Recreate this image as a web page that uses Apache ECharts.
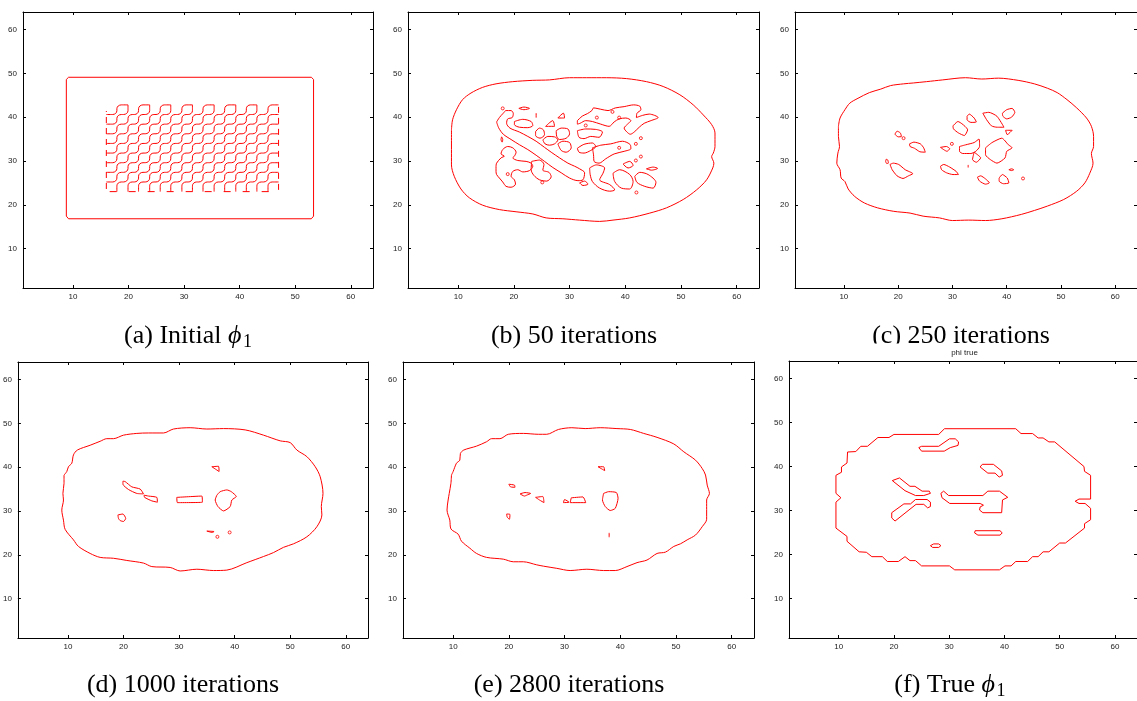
<!DOCTYPE html>
<html>
<head>
<meta charset="utf-8">
<script src="https://cdn.jsdelivr.net/npm/echarts@6/dist/echarts.min.js"></script>
<style>
  html, body { margin: 0; padding: 0; background: #fff; }
  #chart { width: 1137px; height: 701px; }
</style>
</head>
<body>
<div id="chart"></div>
<script>
// ticks shared by every panel
const tickValues = [10, 20, 30, 40, 50, 60];
const axisRange = [1, 64];

// (a) initial phi: rounded outer box
const outerA = [[9.2,16.8],[52.9,16.8],[53.2,17.0],[53.3,17.4],[53.3,48.6],[53.2,49.0],[52.9,49.1],[9.2,49.1],[8.9,49.0],[8.8,48.6],[8.8,17.4],[8.9,17.0],[9.2,16.8]];
// (a) checkerboard grid lines
const checkerX = [16, 17.9, 19.9, 21.8, 23.8, 25.7, 27.6, 29.6, 31.5, 33.4, 35.4, 37.3, 39.3, 41.2, 43.1, 45.1, 47];
const checkerY = [23, 25.2, 27.4, 29.6, 31.8, 34, 36.2, 38.4, 40.6, 42.8];
// (a) dashed borders of the checkerboard
const dashLeftA = [[16, 23.6], [16, 41.4]];
const dashBottomA = [[16.6, 23], [46.6, 23]];
const dashRightA = [[47, 23.4], [47, 43.2]];

// (b) 50 iterations
const outerB = [[8.8,37.1],[9.0,39.4],[9.7,41.7],[10.8,44.0],[12.3,45.5],[14.4,46.8],[16.8,47.6],[19.8,48.1],[23.4,48.4],[26.4,48.5],[30.0,49.0],[33.0,49.0],[36.6,49.0],[40.2,48.8],[43.8,48.1],[46.8,47.0],[49.8,45.1],[52.2,42.8],[54.0,40.5],[55.5,38.3],[56.1,36.4],[56.1,33.3],[55.8,31.8],[55.5,31.0],[55.9,29.5],[55.7,28.4],[54.6,25.7],[52.8,23.4],[50.4,21.2],[47.4,19.3],[44.4,18.1],[40.8,17.0],[37.8,16.5],[35.4,16.2],[31.8,16.5],[28.8,16.8],[25.8,17.0],[23.4,17.9],[20.4,18.4],[17.4,18.9],[14.4,19.9],[12.0,21.6],[10.5,23.6],[9.3,26.5],[8.8,29.1],[8.8,32.6],[8.8,37.1]];
const islandsB = [
  // long diagonal band with its hooked upper end
  [[16.9,38.9],[17.4,39.9],[18.1,40.9],[18.6,41.5],[19.5,41.5],[19.9,40.8],[19.7,39.9],[18.9,39.6],[18.7,38.6],[19.3,37.5],[21.0,36.6],[22.5,35.6],[24.0,34.5],[25.5,33.1],[26.7,32.0],[28.2,30.7],[29.7,29.5],[30.9,28.8],[31.8,28.2],[32.7,27.3],[32.4,25.7],[31.5,25.5],[30.0,26.1],[28.5,27.3],[27.0,28.5],[25.5,29.9],[24.0,31.3],[22.5,32.6],[21.0,33.7],[19.5,34.9],[18.1,36.1],[17.3,37.5],[16.9,38.9]],
  [[20.1,39.0],[21.6,39.5],[23.1,39.0],[23.4,38.1],[22.5,37.6],[21.0,37.7],[20.1,38.3],[20.1,39.0]],
  [[20.9,42.0],[21.8,42.3],[22.8,42.0],[21.8,41.7],[20.9,42.0]],
  [[24.0,40.9],[24.0,39.9]],
  [[17.8,35.5],[18.0,34.9],[17.9,34.3],[17.7,34.9],[17.8,35.5]],
  [[16.8,28.8],[16.9,29.5],[17.7,30.7],[18.3,31.1],[17.7,31.6],[18.0,32.6],[18.9,33.3],[19.8,33.0],[20.4,32.0],[20.1,31.1],[19.8,30.7],[20.7,30.1],[22.2,29.9],[23.1,29.5],[23.4,28.8],[22.8,27.8],[21.6,27.5],[20.7,28.0],[19.8,27.6],[19.5,26.5],[20.1,25.7],[20.3,24.7],[19.5,24.0],[18.6,24.2],[18.0,25.2],[17.4,26.1],[16.9,26.9],[16.8,27.6],[16.8,28.8]],
  [[23.9,36.7],[24.6,37.5],[25.3,37.1],[25.5,36.0],[24.7,35.2],[23.9,35.8],[23.9,36.7]],
  [[25.7,37.9],[27.0,39.2],[27.3,37.9],[25.7,37.9]],
  [[27.9,39.8],[28.9,40.9],[29.1,39.8],[27.9,39.8]],
  [[27.6,36.9],[28.5,37.5],[29.7,37.3],[30.0,36.2],[29.4,35.2],[28.2,34.9],[27.7,35.6],[27.6,36.9]],
  [[25.2,34.8],[26.1,35.6],[27.3,35.5],[27.9,34.8],[27.3,33.9],[26.4,33.6],[25.6,33.9],[25.2,34.8]],
  [[27.9,33.9],[28.8,34.5],[30.0,34.2],[30.3,33.0],[29.4,32.0],[28.5,32.4],[27.9,33.9]],
  [[31.4,36.9],[32.9,37.3],[34.7,37.2],[35.9,36.6],[35.3,35.4],[33.8,35.6],[32.6,35.1],[31.7,35.4],[31.4,36.9]],
  [[31.4,32.9],[32.6,33.8],[34.1,34.1],[34.7,33.3],[33.8,32.4],[32.6,31.8],[31.7,32.0],[31.4,32.9]],
  [[34.1,33.0],[35.6,33.6],[37.4,33.9],[39.5,34.5],[40.9,33.7],[41.0,32.8],[39.8,32.2],[38.0,31.6],[36.5,30.5],[35.3,29.5],[34.4,29.9],[34.3,31.4],[34.1,33.0]],
  // upper right arm
  [[31.4,39.2],[32.3,40.25],[33.2,40.8],[34.0,41.5],[34.3,42.1],[35.6,41.8],[36.9,41.5],[38.2,42.1],[39.8,42.4],[41.5,42.8],[42.6,42.5],[42.8,41.7],[42.1,40.9],[42.0,39.9],[43.1,40.4],[44.3,40.7],[45.9,39.9],[44.6,39.2],[43.4,38.6],[42.5,37.7],[41.6,36.6],[40.9,36.1],[40.3,36.6],[39.8,37.5],[40.4,38.4],[41.0,39.2],[40.1,39.8],[38.9,39.6],[38.0,38.9],[37.1,37.9],[35.6,38.4],[34.1,39.0],[32.9,39.2],[31.9,38.6],[31.4,38.4],[31.4,39.2]],
  [[33.6,28.4],[34.8,29.1],[36.3,28.4],[36.0,27.2],[35.4,25.7],[37.2,24.6],[38.1,23.4],[37.2,23.1],[35.4,23.8],[34.1,25.3],[33.7,26.9],[33.6,28.4]],
  [[37.8,27.2],[39.0,28.0],[40.8,26.9],[41.4,25.3],[40.8,23.6],[39.3,23.8],[38.1,25.3],[37.8,27.2]],
  [[41.7,26.5],[42.6,27.4],[44.1,26.9],[45.5,25.1],[45.0,23.8],[43.5,24.2],[42.1,25.1],[41.7,26.5]],
  [[43.8,28.2],[45.0,28.6],[45.8,28.3],[44.7,27.9],[43.8,28.2]],
  [[39.6,29.3],[40.8,29.9],[41.4,29.0],[40.5,28.4],[39.6,29.3]],
  [[31.8,25.0],[32.7,25.4],[33.3,24.7],[32.4,24.4],[31.8,25.0]],
  [[23.2,29.9],[24.6,30.2],[25.4,29.2],[25.2,27.9],[26.3,27.4],[26.7,26.4],[25.9,25.4],[24.6,25.7],[23.6,26.7],[23.1,28.0],[23.2,29.9]]
];
const dotsB = [[18.0,42.0],[25.1,25.1],[42.0,22.8],[41.9,33.9],[42.8,35.2],[41.9,30.1],[42.8,31.0],[37.7,41.2],[38.9,39.9],[34.9,39.9],[32.9,38.1],[18.9,27.0],[38.9,33.0]];

// (c) 250 iterations
const outerC = [[9.0,37.9],[9.3,39.8],[10.2,41.7],[11.1,43.2],[12.6,44.3],[14.7,45.6],[16.8,46.4],[18.6,47.2],[21.0,47.6],[22.8,47.8],[25.2,48.1],[28.2,48.5],[32.4,49.0],[35.4,48.7],[38.5,48.9],[42.1,48.4],[45.1,47.6],[47.5,46.6],[49.3,45.6],[51.1,44.0],[52.9,42.1],[54.7,39.8],[55.6,37.9],[56.0,35.6],[56.0,33.3],[55.6,31.7],[55.9,29.5],[55.3,27.2],[54.4,25.0],[52.9,23.1],[50.5,21.2],[47.5,19.7],[45.1,18.7],[42.7,17.8],[39.1,16.8],[36.1,16.4],[33.0,16.5],[30.0,16.4],[27.6,17.0],[24.6,17.4],[22.2,18.1],[19.2,18.5],[16.2,19.3],[13.8,20.4],[12.0,21.9],[10.8,23.6],[10.2,25.3],[9.5,26.1],[9.3,28.0],[8.7,29.5],[8.9,31.8],[9.2,33.3],[9.0,35.6],[9.0,37.9]];
const islandsC = [
  [[19.4,36.1],[19.8,36.8],[20.4,36.4],[20.6,35.6],[20.0,35.5],[19.4,36.1]],
  [[22.1,33.9],[22.9,34.3],[24.1,33.9],[24.7,33.0],[25.0,32.0],[24.0,32.1],[23.0,32.9],[22.2,33.3],[22.1,33.9]],
  [[17.8,30.4],[18.1,30.2],[18.2,29.5],[17.9,29.4],[17.7,29.9],[17.8,30.4]],
  [[18.5,29.2],[19.1,29.5],[20.1,29.2],[21.3,28.0],[22.7,27.1],[21.9,26.6],[20.9,26.0],[19.8,26.6],[18.9,28.0],[18.5,29.2]],
  [[27.8,28.8],[28.4,29.2],[29.5,28.6],[30.7,27.6],[31.1,26.9],[30.1,26.9],[28.9,27.3],[28.0,28.0],[27.8,28.8]],
  [[27.8,33.1],[28.9,33.3],[29.5,32.8],[29.0,32.2],[27.8,33.1]],
  [[30.1,38.0],[31.0,39.0],[32.8,37.1],[32.2,35.8],[31.1,36.4],[30.2,37.3],[30.1,38.0]],
  [[32.7,40.2],[33.1,40.7],[34.0,39.8],[34.4,38.9],[33.4,38.8],[32.7,39.4],[32.7,40.2]],
  [[31.3,33.3],[32.5,33.7],[34.0,34.2],[34.9,35.0],[35.0,33.3],[34.3,32.2],[33.4,31.7],[31.9,31.7],[31.3,32.2],[31.3,33.3]],
  [[34.0,32.0],[35.2,30.7],[34.4,29.7],[33.7,30.3],[34.0,32.0]],
  [[35.6,40.9],[36.7,41.1],[38.2,40.2],[39.5,37.7],[38.2,37.7],[37.2,38.0],[36.3,39.4],[35.6,40.9]],
  [[39.2,40.9],[40.0,41.7],[41.0,42.0],[41.5,41.1],[40.9,40.0],[40.0,39.6],[39.3,40.2],[39.2,40.9]],
  [[39.8,37.0],[41.0,37.0],[40.1,36.0],[39.8,37.0]],
  [[36.1,33.0],[37.3,34.2],[39.1,35.2],[40.3,33.7],[41.0,33.0],[40.0,32.2],[39.7,30.7],[38.2,29.5],[37.0,30.3],[36.1,31.4],[36.1,33.0]],
  [[34.6,26.3],[35.2,26.6],[36.1,25.9],[36.8,25.0],[36.1,24.7],[35.0,25.4],[34.6,26.3]],
  [[38.6,26.1],[39.2,26.9],[40.1,26.1],[40.4,25.0],[39.4,24.8],[38.6,25.4],[38.6,26.1]],
  [[32.9,29.1],[32.9,28.5]],
  [[40.4,28.0],[40.9,28.2],[41.3,28.0],[40.9,27.8],[40.4,28.0]]
];
const dotsC = [[21.0,35.2],[29.9,33.9],[43.0,26.0]];

// (d) 1000 iterations
const outerD = [[9.3,38.2],[9.8,39.0],[10.1,40.1],[10.7,40.9],[11.0,42.8],[11.7,43.9],[14.0,45.0],[15.8,45.9],[17.0,46.5],[18.2,46.5],[20.0,47.3],[22.4,47.7],[24.5,47.8],[27.2,47.8],[29.0,48.7],[32.0,49.0],[35.0,48.7],[38.0,48.8],[41.9,48.5],[45.2,47.3],[48.2,46.0],[50.0,45.6],[51.2,43.9],[53.0,42.4],[54.5,40.1],[55.4,37.8],[55.9,34.0],[55.6,31.0],[55.7,29.1],[54.8,26.4],[53.0,24.1],[50.6,22.5],[48.8,21.7],[47.0,20.5],[45.2,19.6],[42.2,18.2],[38.6,16.5],[36.2,16.4],[33.2,16.7],[30.2,16.3],[28.4,17.1],[25.1,17.3],[23.6,18.1],[20.6,18.7],[18.2,19.2],[15.8,19.4],[14.0,20.3],[11.9,21.9],[11.0,23.4],[9.5,25.8],[9.2,27.9],[8.9,30.2],[9.2,32.5],[9.1,34.0],[9.3,36.3],[9.3,38.2]];
const islandsD = [
  [[19.9,36.8],[20.3,36.7],[21.5,35.5],[23.0,35.0],[23.6,33.9],[22.4,34.0],[20.9,34.9],[19.9,36.1],[19.9,36.8]],
  [[23.7,33.6],[24.5,33.4],[26.0,33.1],[26.1,32.0],[25.1,32.3],[23.8,33.1],[23.7,33.6]],
  [[29.6,33.1],[34.1,33.4],[34.2,32.0],[29.7,31.9],[29.6,33.1]],
  [[36.8,33.6],[37.4,34.4],[38.6,34.8],[39.4,34.4],[40.3,33.3],[39.5,32.5],[39.2,31.0],[38.0,30.0],[37.0,31.0],[36.5,32.5],[36.8,33.6]],
  [[35.9,40.1],[37.1,40.2],[37.2,39.0],[35.9,40.1]],
  [[19.0,29.1],[19.9,29.3],[20.4,28.3],[20.0,27.6],[19.4,27.8],[19.1,28.3],[19.0,29.1]],
  [[35.0,25.4],[36.3,25.3],[36.0,25.1],[35.0,25.4]]
];
const dotsD = [[36.9,24.1],[39.1,25.1]];

// (e) 2800 iterations
const outerE = [[9.7,38.2],[10.0,39.0],[10.6,40.9],[11.2,41.6],[11.3,43.1],[11.9,43.9],[14.2,44.8],[16.0,45.8],[16.9,46.5],[18.4,46.5],[19.9,47.5],[22.6,47.7],[25.3,47.5],[26.8,47.5],[28.9,48.6],[31.3,49.0],[33.7,48.8],[36.4,49.0],[39.4,48.8],[41.8,48.6],[44.2,47.7],[46.6,46.8],[49.6,45.3],[51.4,43.5],[53.5,41.6],[54.7,39.7],[55.3,38.2],[55.6,35.9],[56.0,34.0],[55.5,32.5],[55.5,31.0],[55.5,28.1],[54.7,26.4],[53.5,24.5],[52.0,23.4],[50.8,22.5],[49.6,21.9],[48.1,20.6],[46.6,20.3],[44.8,18.8],[43.0,18.2],[41.2,17.3],[39.1,16.4],[37.0,16.4],[34.0,16.7],[31.0,16.4],[28.6,16.9],[26.2,17.4],[25.0,17.7],[22.6,18.4],[20.8,18.4],[19.0,19.0],[16.0,19.4],[14.2,20.3],[13.0,21.5],[11.5,23.1],[10.9,24.7],[9.6,25.9],[9.4,27.9],[8.9,30.2],[9.1,32.5],[9.3,34.0],[9.6,36.3],[9.7,38.2]];
const islandsE = [
  [[20.0,36.1],[21.0,35.9],[21.1,35.4],[20.3,35.5],[20.0,36.1]],
  [[22.0,33.9],[22.9,34.2],[23.9,34.0],[23.2,33.6],[22.8,33.4],[22.0,33.9]],
  [[24.8,33.1],[26.1,33.3],[26.3,31.9],[25.5,32.5],[24.8,33.1]],
  [[31.2,33.0],[33.3,33.2],[33.8,31.9],[31.0,31.9],[31.2,33.0]],
  [[29.8,31.9],[30.0,32.6],[30.8,32.0],[29.8,31.9]],
  [[37.0,34.0],[37.9,34.4],[39.3,34.2],[39.6,32.9],[39.1,30.6],[38.2,30.1],[37.3,31.0],[36.8,32.5],[37.0,34.0]],
  [[36.0,40.1],[37.0,40.1],[37.2,39.2],[36.0,40.1]],
  [[19.6,29.3],[20.2,29.2],[20.1,28.1],[19.7,28.6],[19.6,29.3]],
  [[38.0,25.0],[38.0,24.0]]
];

// (f) true phi (pixel-stepped contour)
const outerF = [[29.15,48.6],[42.05,48.6],[43.0,47.5],[45.1,47.5],[46.1,46.5],[47.0,46.5],[48.05,45.6],[49.1,45.6],[54.4,40.0],[54.5,38.9],[55.6,38.0],[55.6,32.6],[53.5,32.6],[52.8,32.1],[53.5,31.6],[54.6,31.6],[55.6,30.5],[55.6,27.9],[54.5,27.0],[54.5,26.0],[51.05,22.6],[50.0,22.6],[48.05,20.6],[47.0,20.6],[46.1,19.5],[45.1,19.5],[44.2,18.4],[42.05,18.4],[41.2,17.4],[40.1,17.4],[39.1,16.5],[31.0,16.5],[30.05,17.4],[25.0,17.4],[23.9,18.6],[22.9,18.6],[22.0,19.5],[20.8,18.4],[18.8,18.4],[17.9,19.5],[16.0,19.5],[15.0,20.5],[13.7,20.6],[11.5,23.0],[11.5,24.1],[9.5,26.0],[9.5,31.9],[10.4,32.9],[9.5,33.9],[9.5,38.0],[10.5,38.7],[10.5,39.9],[11.5,40.8],[11.6,43.3],[13.1,43.4],[14.0,44.6],[15.2,44.6],[17.1,46.6],[19.1,46.6],[20.0,47.3],[28.1,47.3],[29.15,48.6]];
const islandsF = [
  [[24.5,44.3],[25.0,44.6],[28.1,44.6],[30.05,46.3],[31.1,46.3],[31.7,45.6],[31.6,44.8],[30.2,44.3],[29.1,43.5],[25.0,43.5],[24.5,44.3]],
  [[35.6,39.9],[36.0,40.5],[38.0,40.5],[39.5,39.0],[39.65,38.0],[39.05,37.6],[38.3,38.5],[37.0,38.5],[35.6,39.9]],
  [[19.7,36.8],[21.0,37.4],[22.9,35.5],[23.8,35.5],[25.1,34.4],[26.4,34.4],[26.6,33.9],[25.4,33.4],[23.9,33.4],[22.0,34.5],[19.7,36.8]],
  [[23.9,32.5],[26.0,32.5],[26.6,31.9],[26.6,30.9],[26.1,30.6],[25.4,31.4],[24.0,31.4],[20.2,27.6],[19.6,28.3],[19.6,29.5],[21.8,31.5],[23.0,31.5],[23.9,32.5]],
  [[29.0,34.4],[29.9,33.4],[36.1,33.4],[37.0,34.4],[39.1,34.4],[40.6,33.0],[39.65,32.4],[39.5,29.5],[36.1,29.5],[35.5,30.1],[35.6,30.8],[36.2,31.2],[35.6,31.6],[30.1,31.6],[28.7,32.9],[28.5,33.9],[29.0,34.4]],
  [[34.7,25.4],[39.2,25.4],[39.6,24.9],[39.2,24.4],[35.2,24.4],[34.6,24.9],[34.7,25.4]],
  [[26.6,22.0],[27.2,22.4],[28.1,22.4],[28.5,22.0],[28.1,21.6],[27.0,21.6],[26.6,22.0]]
];

const red = '#ff0000';
const panels = [
  { left: 23, top: 12, width: 350, height: 276 },
  { left: 408, top: 12, width: 351, height: 276 },
  { left: 795, top: 12, width: 350, height: 276 },
  { left: 17, top: 362, width: 351, height: 276 },
  { left: 403, top: 362, width: 351, height: 276 },
  { left: 789, top: 361, width: 351, height: 277 }
];

function makeAxis(i, pos, withLabels) {
  return {
    type: 'value', gridIndex: i, position: pos,
    min: axisRange[0], max: axisRange[1],
    axisLine: { show: true, onZero: false, lineStyle: { color: '#000', width: 1 } },
    axisTick: { show: true, inside: true, length: 3, customValues: tickValues, lineStyle: { color: '#000', width: 1 } },
    axisLabel: {
      show: withLabels, customValues: tickValues, fontSize: 8, color: '#222',
      fontFamily: '"Liberation Sans", Arial, sans-serif',
      margin: pos === 'bottom' ? 5 : 6
    },
    splitLine: { show: false }
  };
}

const xAxes = [], yAxes = [];
panels.forEach((p, i) => {
  xAxes.push(makeAxis(i, 'bottom', true), makeAxis(i, 'top', false));
  yAxes.push(makeAxis(i, 'left', true), makeAxis(i, 'right', false));
});

const series = [];
function addLines(panel, lines, smooth, style) {
  lines.forEach(pts => series.push({
    type: 'line', xAxisIndex: panel * 2, yAxisIndex: panel * 2,
    data: pts, showSymbol: false, smooth: smooth, silent: true,
    lineStyle: Object.assign({ color: red, width: 1 }, style || {})
  }));
}
function addDots(panel, pts) {
  series.push({
    type: 'scatter', xAxisIndex: panel * 2, yAxisIndex: panel * 2,
    data: pts, symbol: 'circle', symbolSize: 3, silent: true,
    itemStyle: { color: 'rgba(0,0,0,0)', borderColor: red, borderWidth: 1 }
  });
}

// walk the checkerboard grid: zero lines joined at each saddle
function stairs(c, r, move) {
  const lastC = checkerX.length - 1, lastR = checkerY.length - 1;
  const pts = [[checkerX[c], checkerY[r]]];
  for (;;) {
    if (move === 'N') {
      if (r === lastR || c === lastC) break;
      r += 1;
    } else {
      if (c === lastC) break;
      if (r === lastR && c % 2 === 0) break;
      c += 1;
    }
    pts.push([checkerX[c], checkerY[r]]);
    if (r === lastR && move === 'E') break;
    move = move === 'N' ? 'E' : 'N';
  }
  return pts;
}
// contour lines pass beside each saddle, not through it
function cutCorners(pts, f) {
  const out = [pts[0]];
  for (let k = 0; k < pts.length - 1; k++) {
    const a = pts[k], b = pts[k + 1];
    out.push([a[0] + (b[0] - a[0]) * f, a[1] + (b[1] - a[1]) * f]);
    out.push([a[0] + (b[0] - a[0]) * (1 - f), a[1] + (b[1] - a[1]) * (1 - f)]);
  }
  out.push(pts[pts.length - 1]);
  return out;
}
const checkerLines = [];
for (let j = 1; j < checkerY.length - 1; j++) checkerLines.push(cutCorners(stairs(0, j, 'E'), 0.4));
for (let i = 1; i < checkerX.length - 1; i++) checkerLines.push(cutCorners(stairs(i, 0, 'N'), 0.4));

addLines(0, [outerA], false);
addLines(0, checkerLines, 0.5);
addLines(0, [dashLeftA, dashRightA], false, { type: [6, 5] });
addLines(0, [dashBottomA], false, { type: [7, 12] });

addLines(1, [outerB], 0.3);
addLines(1, islandsB, 0.3);
addDots(1, dotsB);

addLines(2, [outerC], 0.3);
addLines(2, islandsC, 0.2);
addDots(2, dotsC);

addLines(3, [outerD], 0.3);
addLines(3, islandsD, 0.2);
addDots(3, dotsD);

addLines(4, [outerE], 0.3);
addLines(4, islandsE, 0.2);

addLines(5, [outerF], false);
addLines(5, islandsF, false);

const serif = '"Liberation Serif", "DejaVu Serif", serif';
function txt(x, y, text, size, align, extra) {
  return {
    type: 'text', z: 10,
    style: Object.assign({
      x: x, y: y, text: text, fill: '#000',
      fontSize: size, fontFamily: serif,
      align: align, textAlign: align,
      verticalAlign: 'middle', textVerticalAlign: 'middle'
    }, extra || {})
  };
}

const graphics = [
  txt(221.5, 336, '(a) Initial', 26, 'right'),
  txt(228, 336, '\u03d5', 26, 'left', { fontStyle: 'italic' }),
  txt(243, 342, '1', 18, 'left'),
  txt(574, 336, '(b) 50 iterations', 26, 'center'),
  txt(961, 336, '(c) 250 iterations', 26, 'center'),
  { type: 'rect', z: 20, shape: { x: 850, y: 343.5, width: 220, height: 14 }, style: { fill: '#fff' } },
  txt(964.5, 353, 'phi true', 8, 'center', { fontFamily: '"Liberation Sans", Arial, sans-serif', fill: '#222' }),
  txt(183, 685, '(d) 1000 iterations', 26, 'center'),
  txt(569, 685, '(e) 2800 iterations', 26, 'center'),
  txt(975, 685, '(f) True', 26, 'right'),
  txt(981.5, 685, '\u03d5', 26, 'left', { fontStyle: 'italic' }),
  txt(996.5, 691, '1', 18, 'left')
];
graphics[6].z = 30;

const chart = echarts.init(document.getElementById('chart'), null, { renderer: 'canvas' });
chart.setOption({
  animation: false,
  backgroundColor: '#fff',
  grid: panels.map(p => Object.assign({ containLabel: false, show: false }, p)),
  xAxis: xAxes,
  yAxis: yAxes,
  series: series,
  graphic: { elements: graphics }
});
</script>
</body>
</html>
